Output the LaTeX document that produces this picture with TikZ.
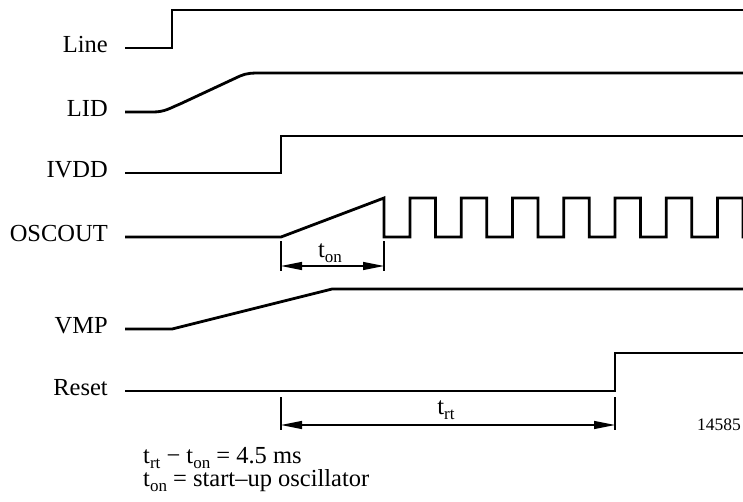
\documentclass[tikz,border=0pt]{standalone}
\usepackage{fontspec}
\setmainfont{Liberation Serif}
\usetikzlibrary{arrows.meta}
\newcommand\tsub[1]{\raisebox{-5pt}{\fontsize{17}{18}\selectfont #1}}
\begin{document}
\begin{tikzpicture}[x=1pt,y=-1pt,
  sig/.style={line width=2.8pt, line join=miter, miter limit=3},
  dimtick/.style={line width=1.8pt},
  dimarrow/.style={line width=1.2pt, {Triangle[length=21pt,width=8pt]}-{Triangle[length=21pt,width=8pt]}},
  lab/.style={anchor=base east, inner sep=0pt, font=\fontsize{24.5}{28}\selectfont},
  tlab/.style={anchor=base, inner sep=0pt, font=\fontsize{24.5}{28}\selectfont},
  note/.style={anchor=base west, inner sep=0pt, font=\fontsize{24.5}{28}\selectfont},
  fig/.style={anchor=base east, inner sep=0pt, font=\fontsize{17.5}{20}\selectfont}]
\useasboundingbox (0,0) rectangle (743,501);
% labels
\node[lab] (lLine)  at (108,52)  {Line};
\node[lab] (lLID)   at (108,116) {LID};
\node[lab] (lIVDD)  at (108,177) {IVDD};
\node[lab] (lOSC)   at (108,241) {OSCOUT};
\node[lab] (lVMP)   at (108,333) {VMP};
\node[lab] (lReset) at (108,395) {Reset};
% Line
\draw[sig] (125,48) -- (172,48) -- (172,10) -- (743,10);
% LID
\draw[sig] (125,112) -- (153,112) .. controls (165,112) and (170,108) .. (180,104) -- (240,76) .. controls (247,73) and (252,73) .. (262,73) -- (743,73);
% IVDD
\draw[sig] (125,173) -- (281,173) -- (281,136) -- (743,136);
% OSCOUT
\draw[sig] (125,237) -- (281,237) -- (384,198) -- (384,237) -- (410,237)
  \foreach \k in {0,...,6} {
    -- ({410+51.25*\k},198) -- ({435.5+51.25*\k},198) -- ({435.5+51.25*\k},237)
    -- ({461.25+51.25*\k},237)
  };
% VMP
\draw[sig] (125,329) -- (172,329) -- (332,289) -- (743,289);
% Reset
\draw[sig] (125,391) -- (615,391) -- (615,353) -- (743,353);
% t_on dimension
\coordinate (ton0) at (281,241);
\coordinate (ton1) at (384,241);
\coordinate (tonA) at (281,266);
\coordinate (tonB) at (384,266);
\draw[dimtick] (ton0) -- (281,271);
\draw[dimtick] (ton1) -- (384,271);
\draw[dimarrow] (tonA) -- (tonB);
\node[tlab] (tonlab) at (330,257) {t\tsub{on}};
% t_rt dimension
\coordinate (trt0) at (281,397);
\coordinate (trt1) at (615,397);
\coordinate (trtA) at (281,425);
\coordinate (trtB) at (615,425);
\draw[dimtick] (trt0) -- (281,430);
\draw[dimtick] (trt1) -- (615,430);
\draw[dimarrow] (trtA) -- (trtB);
\node[tlab] (trtlab) at (446,414) {t\tsub{rt}};
% figure number
\node[fig] (num) at (741,430) {14585};
% notes
\node[note] (n1) at (143,463) {t\tsub{rt} − t\tsub{on} = 4.5 ms};
\node[note] (n2) at (143,486) {t\tsub{on} = start–up oscillator};
\end{tikzpicture}
\end{document}
